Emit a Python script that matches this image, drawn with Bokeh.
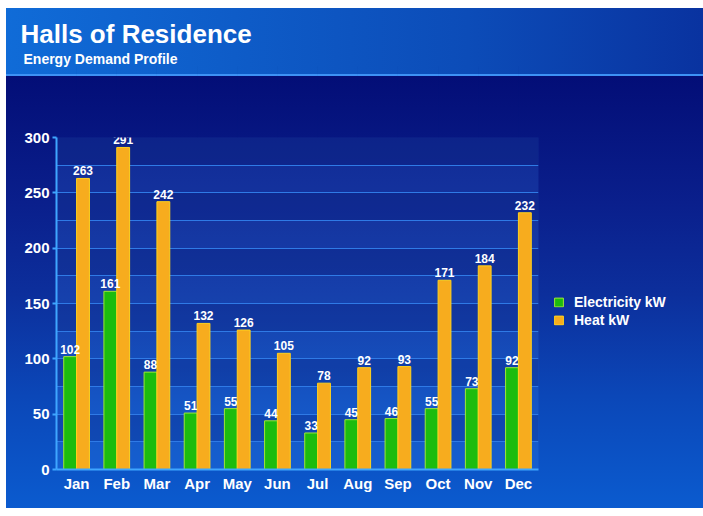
from bokeh.plotting import figure
from bokeh.models import (ColumnDataSource, LabelSet, Legend, LegendItem, Title, CategoricalAxis,
                          SingleIntervalTicker, FixedTicker)
from bokeh.transform import dodge
from bokeh.core.properties import value
from bokeh.embed import file_html
from bokeh.resources import INLINE

# ---- data ----
months = ["Jan", "Feb", "Mar", "Apr", "May", "Jun", "Jul", "Aug", "Sep", "Oct", "Nov", "Dec"]
electricity = [102, 161, 88, 51, 55, 44, 33, 45, 46, 55, 73, 92]
heat = [263, 291, 242, 132, 126, 105, 78, 92, 93, 171, 184, 232]
y_ticks = [0, 50, 100, 150, 200, 250, 300]
title_text = "Halls of Residence"
subtitle_text = "Energy Demand Profile"
series_names = ["Electricity kW", "Heat kW"]

FONT = "Liberation Sans"

src = ColumnDataSource(dict(
    months=months,
    electricity=electricity,
    heat=heat,
    e_txt=[str(v) for v in electricity],
    h_txt=[str(v) for v in heat],
))

bg = ("linear-gradient(#ffffff, #ffffff) 0 0 / 100% 8px no-repeat, "
      "linear-gradient(#ffffff, #ffffff) 0 0 / 6px 100% no-repeat, "
      "linear-gradient(#3d92f5, #3d92f5) 0 74px / 100% 2px no-repeat, "
      "linear-gradient(to right, #106cd8 0%, #0c4cb8 40%, #07208e 75%, #051480 100%) 0 8px / 100% 67px no-repeat, "
      "linear-gradient(to bottom, #030d76 0%, #030d76 14%, #0a1f8c 40%, #0c2f9c 58%, #0b47b8 78%, #0b5bcf 100%)")

p = figure(x_range=months, y_range=(0, 300), frame_width=482, frame_height=332,
           output_backend="svg", toolbar_location=None,
           min_border_left=56, min_border_right=165, min_border_top=137, min_border_bottom=39,
           styles={"background": bg})
p.border_fill_alpha = 0
p.background_fill_color = "#4a9aff"
p.background_fill_alpha = 0.16
p.outline_line_color = None
p.x_range.range_padding = 0

xax = p.below[0]
yax = p.left[0]

# grid and bands
p.xgrid.grid_line_color = None
p.ygrid.ticker = SingleIntervalTicker(interval=25)
p.ygrid.grid_line_color = "#2f7ae6"
p.ygrid.grid_line_width = 1
p.ygrid.band_fill_color = "#020a60"
p.ygrid.band_fill_alpha = 0.22

# bars
r_e = p.vbar(x=dodge("months", -0.16, range=p.x_range), top="electricity", width=0.32,
             source=src, fill_color="#1cbc0e", line_color="#9fe43a", line_width=1)
r_h = p.vbar(x=dodge("months", 0.16, range=p.x_range), top="heat", width=0.32,
             source=src, fill_color="#f7ac1e", line_color="#ffd21c", line_width=1)

lbl_style = dict(text_color="white", text_font=value(FONT), text_font_style="bold",
                 text_font_size="12px", text_align="center", text_baseline="bottom", y_offset=3)
p.add_layout(LabelSet(x=dodge("months", -0.16, range=p.x_range), y="electricity", text="e_txt",
                      source=src, **lbl_style))
p.add_layout(LabelSet(x=dodge("months", 0.16, range=p.x_range), y="heat", text="h_txt",
                      source=src, **lbl_style))

# axes
for ax in (xax, yax):
    ax.axis_line_color = "#3fa6ff"
    ax.axis_line_width = 2
    ax.major_label_text_color = "white"
    ax.major_label_text_font = FONT
    ax.major_label_text_font_style = "bold"
    ax.major_label_text_font_size = "15px"
    ax.minor_tick_line_color = None

yax.ticker = FixedTicker(ticks=y_ticks)
yax.major_tick_line_color = "#3fa6ff"
yax.major_tick_line_width = 2
yax.major_tick_out = 4
yax.major_tick_in = 0
yax.major_label_standoff = 3

xax.major_tick_line_color = None
xax.major_tick_out = 0
xax.major_label_standoff = 5

# titles: main title outermost, then subtitle, then an invisible spacer next to the frame
has_standoff = "standoff" in Title.properties()
p.title.text = title_text
p.title.text_color = "white"
p.title.text_font = FONT
p.title.text_font_style = "bold"
p.title.text_font_size = "26px"
p.title.offset = -36

spacer = CategoricalAxis(major_tick_out=71, major_tick_in=0, major_label_standoff=0,
                         major_label_text_font_size="1px", major_label_text_color=None,
                         axis_line_color=None, major_tick_line_color="#05107a",
                         major_tick_line_alpha=0.03, minor_tick_line_color=None)
p.add_layout(spacer, "above")
sub = Title(text=subtitle_text, text_color="white", text_font=FONT, text_font_style="bold",
            text_font_size="14px", offset=-33)
if has_standoff:
    sub.standoff = 0
    p.title.standoff = 0
p.add_layout(sub, "above")

# legend (side panel right of the frame)
legend = Legend(items=[LegendItem(label=series_names[0], renderers=[r_e]),
                       LegendItem(label=series_names[1], renderers=[r_h])],
                location="left", orientation="vertical",
                title=" ", title_text_font_size="10px", title_standoff=4,
                background_fill_alpha=0, border_line_color=None,
                label_text_color="white", label_text_font=FONT, label_text_font_style="bold",
                label_text_font_size="14px", glyph_width=11, glyph_height=11,
                label_height=11, spacing=2, padding=9, margin=15, label_standoff=10)
p.add_layout(legend, "right")

open("out.html", "w").write(file_html(p, INLINE))
